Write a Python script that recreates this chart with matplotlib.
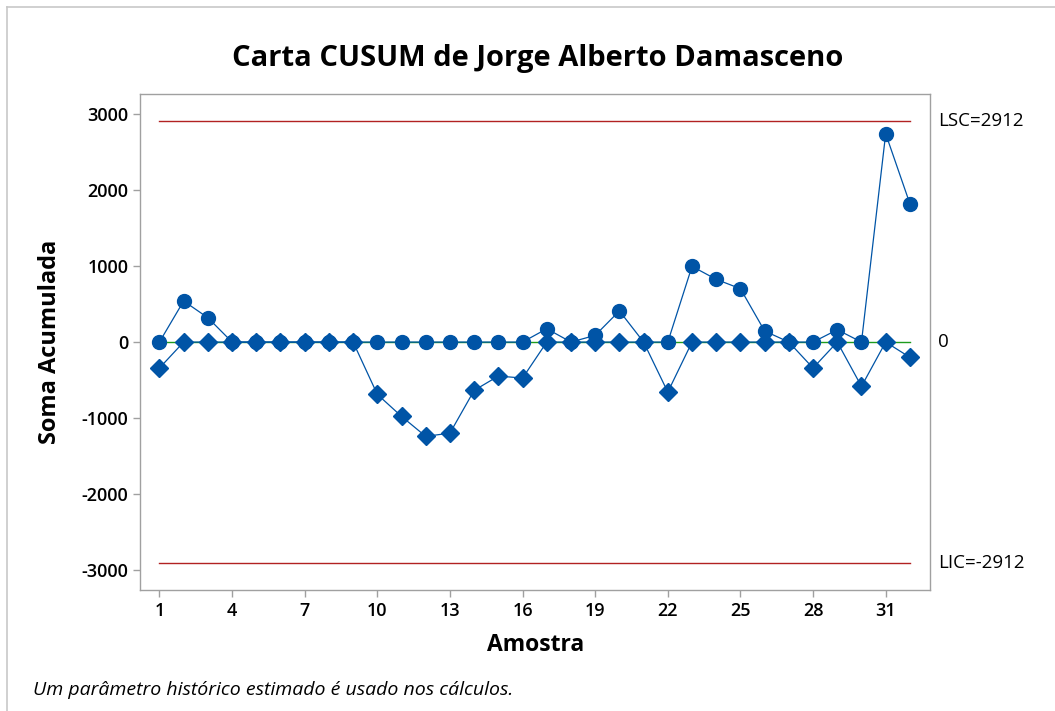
import matplotlib
matplotlib.use("Agg")
import matplotlib.pyplot as plt
from matplotlib.lines import Line2D

plt.rcParams['font.family'] = ['Open Sans', 'DejaVu Sans']

amostras = list(range(1, 33))
cusum_sup = [0, 540, 320, 0, 0, 0, 0, 0, 0, 0, 0, 0, 0, 0, 0, 0,
             175, 0, 88, 410, 0, 0, 996, 825, 702, 145, 0, 0, 162, 0, 2741, 1820]
cusum_inf = [-342, 0, 0, 0, 0, 0, 0, 0, 0, -688, -978, -1241, -1198, -636, -447, -474,
             0, 0, 0, 0, 0, -658, 0, 0, 0, 0, 0, -342, 0, -583, 0, -201]
lsc = 2912
lic = -2912
centro = 0
xticks = [1, 4, 7, 10, 13, 16, 19, 22, 25, 28, 31]
yticks = [-3000, -2000, -1000, 0, 1000, 2000, 3000]

blue = '#0054A6'
fig = plt.figure(figsize=(10.55, 7.11), dpi=100)
ax = fig.add_axes([0.133, 0.1702, 0.7485, 0.6972])

x0, x1 = amostras[0], amostras[-1]
ax.plot([x0, x1], [lsc, lsc], color='#B22222', lw=1.0, zorder=1)
ax.plot([x0, x1], [lic, lic], color='#B22222', lw=1.0, zorder=1)
ax.plot([x0, x1], [centro, centro], color='#1E9B1E', lw=1.0, zorder=1)

ax.plot(amostras, cusum_sup, color=blue, lw=0.9, marker='o', ms=10,
        markeredgecolor=blue, markerfacecolor=blue, zorder=3)
ax.plot(amostras, cusum_inf, color=blue, lw=0.9, marker='D', ms=9,
        markeredgecolor=blue, markerfacecolor=blue, zorder=3)

ax.set_xlim(0.21, 32.83)
ax.set_ylim(-3262, 3260)
ax.set_xticks(xticks)
ax.set_yticks(yticks)
ax.set_xticklabels([str(v) for v in xticks], fontsize=13, fontweight='semibold')
ax.set_yticklabels([str(v) for v in yticks], fontsize=13, fontweight='semibold')
for s in ax.spines.values():
    s.set_color('#A0A0A0')
    s.set_linewidth(1.0)
ax.tick_params(axis='both', colors='#A0A0A0', labelcolor='black', length=5, width=1)

ax.set_xlabel('Amostra', fontsize=16.5, fontweight='bold')
ax.set_ylabel('Soma Acumulada', fontsize=17, fontweight='bold')
ax.xaxis.set_label_coords(0.5, -0.111)
ax.yaxis.set_label_coords(-0.114, 0.5)
ax.xaxis.label.set_va('center')
ax.yaxis.label.set_va('center')

fig.text(0.51, 0.918, 'Carta CUSUM de Jorge Alberto Damasceno', ha='center', va='center',
         fontsize=21, fontweight='bold')

tr = ax.get_yaxis_transform()
for val, lab in [(lsc, 'LSC=2912'), (centro, '0'), (lic, 'LIC=-2912')]:
    ax.text(1.01, val, lab, transform=tr, ha='left', va='center', fontsize=13.5, clip_on=False)

fig.text(0.031, 0.029, 'Um parâmetro histórico estimado é usado nos cálculos.',
         ha='left', va='center', fontsize=14, style='italic')

# partial frame (top and left)
fig.add_artist(Line2D([0.0066, 1.0], [0.990, 0.990], transform=fig.transFigure,
                      color='#C8C8C8', lw=1.2))
fig.add_artist(Line2D([0.0066, 0.0066], [0.0, 0.990], transform=fig.transFigure,
                      color='#C8C8C8', lw=1.2))

fig.savefig('out.png', dpi=100)
